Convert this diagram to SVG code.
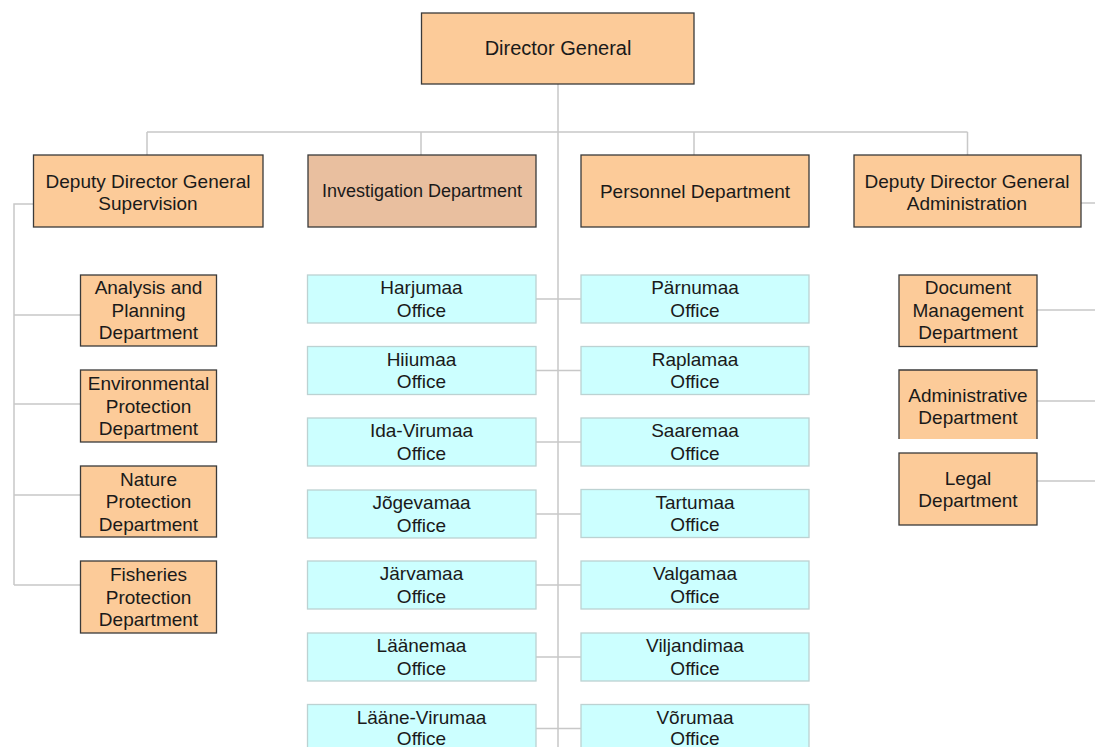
<svg xmlns="http://www.w3.org/2000/svg" width="1095" height="747" viewBox="0 0 1095 747">
<style>
.bg{fill:#ffffff}
.ln{stroke:#c8c8c8;stroke-width:1.5;fill:none}
.or{fill:#fccb99;stroke:#3a3a3a;stroke-width:1.3}
.inv{fill:#e9bf9f;stroke:#3a3a3a;stroke-width:1.3}
.cy{fill:#ccffff;stroke:#bcd2d2;stroke-width:1.3}
text{font-family:"Liberation Sans",Arial,sans-serif;font-size:19px;fill:#1a1a1a;text-anchor:middle}
.s18{font-size:18px}
.s20{font-size:20px}
</style>
<rect class="bg" x="0" y="0" width="1095" height="747"/>
<g id="connectors">
<path class="ln" d="M558 84V747M147 132H967.5M147 132V155M421 132V155M694 132V155M967.5 132V155"/>
<path class="ln" d="M33.5 204H14V585M14 315H80M14 404H80M14 495H80M14 585H80"/>
<path class="ln" d="M1081 203H1095M1037 310H1095M1037 401H1095M1037 481H1095"/>
<path class="ln" d="M536 299H581M536 370.5H581M536 442H581M536 514H581M536 585H581M536 657H581M536 728.5H581"/>
</g>
<g id="director-general"><rect class="or" x="421.5" y="13" width="272.5" height="71"/><text class="s20" x="558" y="55">Director General</text></g>
<g id="deputy-supervision"><rect class="or" x="33.5" y="155" width="229.5" height="72"/><text x="148" y="188">Deputy Director General</text><text x="148" y="210">Supervision</text></g>
<g id="investigation"><rect class="inv" x="308" y="155" width="228" height="72"/><text class="s18" x="422" y="197">Investigation Department</text></g>
<g id="personnel"><rect class="or" x="581" y="155" width="228" height="72"/><text x="695" y="198">Personnel Department</text></g>
<g id="deputy-administration"><rect class="or" x="854" y="155" width="227" height="72"/><text x="967" y="188">Deputy Director General</text><text x="967" y="210">Administration</text></g>
<g id="analysis"><rect class="or" x="80.5" y="275" width="136" height="71"/><text x="148.5" y="294">Analysis and</text><text x="148.5" y="316.5">Planning</text><text x="148.5" y="339">Department</text></g>
<g id="environmental"><rect class="or" x="80.5" y="370" width="136" height="72"/><text x="148.5" y="390">Environmental</text><text x="148.5" y="412.5">Protection</text><text x="148.5" y="435">Department</text></g>
<g id="nature"><rect class="or" x="80.5" y="466" width="136" height="71"/><text x="148.5" y="485.5">Nature</text><text x="148.5" y="508">Protection</text><text x="148.5" y="530.5">Department</text></g>
<g id="fisheries"><rect class="or" x="80.5" y="561" width="136" height="72"/><text x="148.5" y="581">Fisheries</text><text x="148.5" y="603.5">Protection</text><text x="148.5" y="626">Department</text></g>
<g id="harjumaa"><rect class="cy" x="307.5" y="275" width="228.5" height="48"/><text x="421.5" y="294">Harjumaa</text><text x="421.5" y="316.5">Office</text></g>
<g id="hiiumaa"><rect class="cy" x="307.5" y="346.5" width="228.5" height="48"/><text x="421.5" y="365.5">Hiiumaa</text><text x="421.5" y="388">Office</text></g>
<g id="ida-virumaa"><rect class="cy" x="307.5" y="418" width="228.5" height="48"/><text x="421.5" y="437">Ida-Virumaa</text><text x="421.5" y="459.5">Office</text></g>
<g id="jogevamaa"><rect class="cy" x="307.5" y="490" width="228.5" height="48"/><text x="421.5" y="509">Jõgevamaa</text><text x="421.5" y="531.5">Office</text></g>
<g id="jarvamaa"><rect class="cy" x="307.5" y="561" width="228.5" height="48"/><text x="421.5" y="580">Järvamaa</text><text x="421.5" y="602.5">Office</text></g>
<g id="laanemaa"><rect class="cy" x="307.5" y="633" width="228.5" height="48"/><text x="421.5" y="652">Läänemaa</text><text x="421.5" y="674.5">Office</text></g>
<g id="laane-virumaa"><rect class="cy" x="307.5" y="704.5" width="228.5" height="48"/><text x="421.5" y="723.5">Lääne-Virumaa</text><text x="421.5" y="745">Office</text></g>
<g id="parnumaa"><rect class="cy" x="581" y="275" width="228" height="48"/><text x="695" y="294">Pärnumaa</text><text x="695" y="316.5">Office</text></g>
<g id="raplamaa"><rect class="cy" x="581" y="346.5" width="228" height="48"/><text x="695" y="365.5">Raplamaa</text><text x="695" y="388">Office</text></g>
<g id="saaremaa"><rect class="cy" x="581" y="418" width="228" height="48"/><text x="695" y="437">Saaremaa</text><text x="695" y="459.5">Office</text></g>
<g id="tartumaa"><rect class="cy" x="581" y="489.5" width="228" height="48"/><text x="695" y="508.5">Tartumaa</text><text x="695" y="531">Office</text></g>
<g id="valgamaa"><rect class="cy" x="581" y="561" width="228" height="48"/><text x="695" y="580">Valgamaa</text><text x="695" y="602.5">Office</text></g>
<g id="viljandimaa"><rect class="cy" x="581" y="633" width="228" height="48"/><text x="695" y="652">Viljandimaa</text><text x="695" y="674.5">Office</text></g>
<g id="vorumaa"><rect class="cy" x="581" y="704.5" width="228" height="48"/><text x="695" y="723.5">Võrumaa</text><text x="695" y="745">Office</text></g>
<g id="document-management"><rect class="or" x="899" y="275" width="138" height="71.5"/><text x="968" y="294">Document</text><text x="968" y="316.5">Management</text><text x="968" y="339">Department</text></g>
<g id="administrative"><rect x="899" y="370" width="138" height="69" fill="#fccb99"/><path d="M899 439V370H1037V439" fill="none" stroke="#3a3a3a" stroke-width="1.3"/><text x="968" y="401.5">Administrative</text><text x="968" y="424">Department</text></g>
<g id="legal"><rect class="or" x="899" y="453" width="138" height="72"/><text x="968" y="485">Legal</text><text x="968" y="507">Department</text></g>
</svg>
